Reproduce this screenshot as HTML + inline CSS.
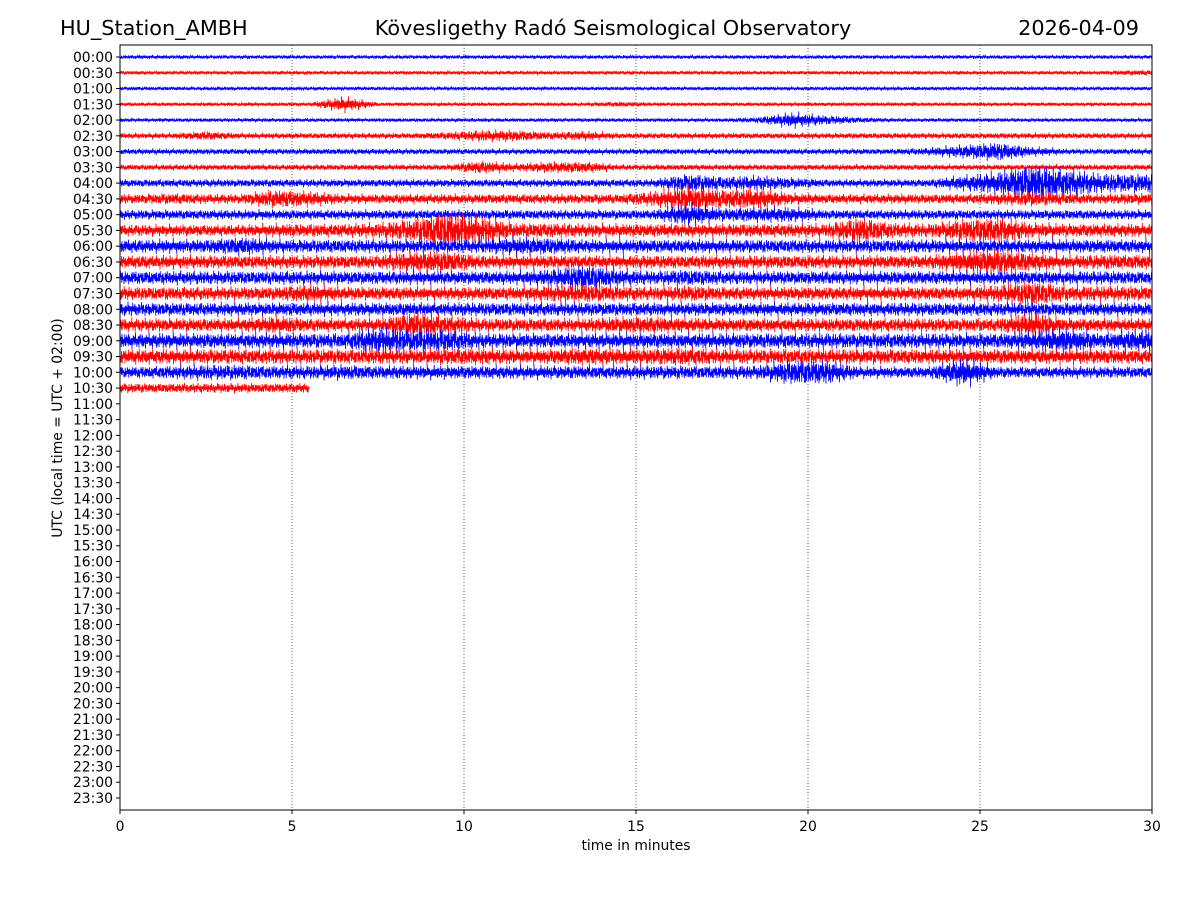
<!DOCTYPE html>
<html><head><meta charset="utf-8"><style>
body{margin:0;background:#fff;}
svg text{font-family:"DejaVu Sans","Liberation Sans",sans-serif;}
</style></head><body>
<svg id="chart" width="1200" height="900" viewBox="0 0 1200 900" xmlns="http://www.w3.org/2000/svg">
<rect width="1200" height="900" fill="#fff"/>
<text x="60" y="35" font-size="20.8">HU_Station_AMBH</text>
<text x="613" y="35" font-size="20.8" text-anchor="middle">Kövesligethy Radó Seismological Observatory</text>
<text x="1139" y="35" font-size="20.8" text-anchor="end">2026-04-09</text>
<g id="grid"></g>
<g id="traces"></g>
<g id="axes"></g>
<text x="636" y="850" font-size="13.9" text-anchor="middle">time in minutes</text>
<text transform="translate(62,428) rotate(-90)" font-size="13.9" text-anchor="middle">UTC (local time = UTC + 02:00)</text>
</svg>
<script>
// Data: half-amplitude envelope (px) for each minute of each 30-minute row
const rowLabels = ["00:00","00:30","01:00","01:30","02:00","02:30","03:00","03:30","04:00","04:30","05:00","05:30","06:00","06:30","07:00","07:30","08:00","08:30","09:00","09:30","10:00","10:30","11:00","11:30","12:00","12:30","13:00","13:30","14:00","14:30","15:00","15:30","16:00","16:30","17:00","17:30","18:00","18:30","19:00","19:30","20:00","20:30","21:00","21:30","22:00","22:30","23:00","23:30"];
const xTicks = [0,5,10,15,20,25,30];
const rowEnd = [30,30,30,30,30,30,30,30,30,30,30,30,30,30,30,30,30,30,30,30,30,5.5];
const envelopes = [
[2,2,2,2,2,2,2,2,2,2,2,2,2,2,2,2,2,2,2,2,2,2,2,2,2,2,2,2,2,2],
[2,2,2,2,2,2,2,2,2,2,2,2,2,2,2,2,2,2,2,2,2,2,2,2,2,2,2,2,2,3],
[2,2,2,2,2,2,2,2,2,2,2,2,2,2,2,2,2,2,2,2,2,2,2,2,2,2,2,2,2,2],
[2,2,2,2,2,2,8,2,2,2,2,2,2,2,3,2,2,2,2,2,2,2,2,2,2,2,2,2,2,2],
[2,2,2,2,2,2,2,2,2,2,2,2,2,2,2,2,2,2,3,8,5,3,2,2,2,2,2,2,2,2],
[3,3,5,3,3,3,3,3,3,4,6,6,4,5,3,3,3,3,3,3,3,3,3,3,3,3,3,3,3,3],
[3,3,3,3,3,3,3,3,3,3,3,3,3,3,3,3,3,3,3,3,3,3,3,4,7,10,5,3,3,3],
[3,3,3,3,3,3,3,3,3,3,7,4,6,6,3,3,3,3,3,3,3,3,3,3,3,3,3,3,3,3],
[4,4,4,4,4,4,4,4,4,4,4,4,4,4,4,4,10,7,8,6,4,4,4,4,8,12,20,15,10,10],
[5,6,5,5,10,8,5,5,5,5,5,5,5,5,5,8,14,10,12,6,5,5,5,5,5,6,8,6,5,6],
[5,5,5,5,5,5,5,5,5,5,5,5,5,5,5,5,12,7,8,8,5,5,5,5,5,5,5,5,5,5],
[6,6,6,6,7,7,7,8,12,20,15,8,8,7,7,7,7,7,7,7,7,14,8,7,12,14,8,7,7,7],
[7,7,7,10,7,7,7,7,7,7,7,10,9,7,7,7,7,7,7,7,7,7,7,7,7,7,7,7,7,7],
[7,7,7,7,7,7,7,7,12,12,7,7,7,7,7,7,7,7,7,7,7,7,7,7,12,14,10,7,8,8],
[7,7,7,7,7,7,7,7,7,7,7,7,9,14,9,7,9,7,7,7,7,7,7,7,7,7,7,7,7,7],
[7,7,7,7,7,10,7,7,7,7,7,7,9,10,8,7,9,7,7,7,7,7,7,7,7,9,14,8,8,8],
[7,7,7,7,7,7,7,7,7,7,7,7,7,7,7,7,7,7,7,7,7,7,7,7,7,7,7,7,7,7],
[7,7,7,7,10,7,7,7,14,10,7,7,7,7,9,9,8,7,7,7,7,7,7,7,7,7,14,7,7,7],
[8,8,8,8,8,8,8,15,12,12,8,8,8,8,8,8,8,8,8,8,8,8,8,8,8,8,10,14,8,12],
[8,8,8,8,8,8,8,8,8,9,9,8,8,10,9,9,10,8,8,8,8,8,8,8,8,8,8,8,8,8],
[6,7,8,8,7,7,8,7,7,7,7,7,7,7,7,7,7,7,7,13,13,6,6,6,15,6,6,6,6,6],
[5,5,5,5,5,5,0,0,0,0,0,0,0,0,0,0,0,0,0,0,0,0,0,0,0,0,0,0,0,0]
];
</script>
<script>
const NS="http://www.w3.org/2000/svg";
const X0=120,X1=1152,Y0=45,Y1=810,R0=57,RS=(798-57)/47;
const xs=m=>X0+(X1-X0)*m/30;
const ys=i=>R0+RS*i;
const grid=document.getElementById('grid'),axes=document.getElementById('axes'),tr=document.getElementById('traces');
xTicks.forEach(t=>{
  if(t>0&&t<30){const l=document.createElementNS(NS,'line');
  
  
  l.setAttribute('x1',xs(t));l.setAttribute('x2',xs(t));l.setAttribute('y1',Y0);l.setAttribute('y2',Y1);
  l.setAttribute('stroke','#000');l.setAttribute('stroke-width','0.6');l.setAttribute('stroke-dasharray','1,2');grid.appendChild(l);}
  const tk=document.createElementNS(NS,'line');
  
  
  tk.setAttribute('x1',xs(t));tk.setAttribute('x2',xs(t));tk.setAttribute('y1',Y1);tk.setAttribute('y2',Y1+4);tk.setAttribute('stroke','#000');axes.appendChild(tk);
  const tx=document.createElementNS(NS,'text');
  
  
  tx.setAttribute('x',xs(t));tx.setAttribute('y',831);tx.setAttribute('font-size','13.9');tx.setAttribute('text-anchor','middle');tx.textContent=t;axes.appendChild(tx);
});
rowLabels.forEach((lab,i)=>{
  const tk=document.createElementNS(NS,'line');
  
  
  tk.setAttribute('x1',X0-4);tk.setAttribute('x2',X0);tk.setAttribute('y1',ys(i));tk.setAttribute('y2',ys(i));tk.setAttribute('stroke','#000');axes.appendChild(tk);
  const tx=document.createElementNS(NS,'text');
  
  
  tx.setAttribute('x',X0-7);tx.setAttribute('y',ys(i)+5);tx.setAttribute('font-size','13.9');tx.setAttribute('text-anchor','end');tx.textContent=lab;axes.appendChild(tx);
});
const fr=document.createElementNS(NS,'rect');


fr.setAttribute('x',X0);fr.setAttribute('y',Y0);fr.setAttribute('width',X1-X0);fr.setAttribute('height',Y1-Y0);fr.setAttribute('fill','none');fr.setAttribute('stroke','#000');axes.appendChild(fr);
envelopes.forEach((env,i)=>{
  const end=rowEnd[i];const y=ys(i);const pts=[];
  const n=Math.round((xs(end)-X0)*4);
  const envAt=m=>{const c=m-0.5;if(c<=0)return env[0];const f=Math.min(29,Math.floor(c));const g=c-f;const b=env[Math.min(29,f+1)];return env[f]+(b-env[f])*g;};
  for(let k=0;k<=n;k++){
    const m=end*k/n;
    const a=envAt(m);
    const w=Math.sin(k*2.913)*0.45+Math.sin(k*1.618+i)*0.35+Math.sin(k*0.7071+i*2)*0.25+Math.sin(k*0.2357+i*3)*0.15;
    pts.push(xs(m).toFixed(2)+','+(y+a*w).toFixed(2));
  }
  const p=document.createElementNS(NS,'polyline');
  
  
  p.setAttribute('points',pts.join(' '));p.setAttribute('fill','none');
  p.setAttribute('stroke',i%2?'#ff0000':'#0000ff');p.setAttribute('stroke-width','0.8');
  tr.appendChild(p);
});
</script>
</body></html>
